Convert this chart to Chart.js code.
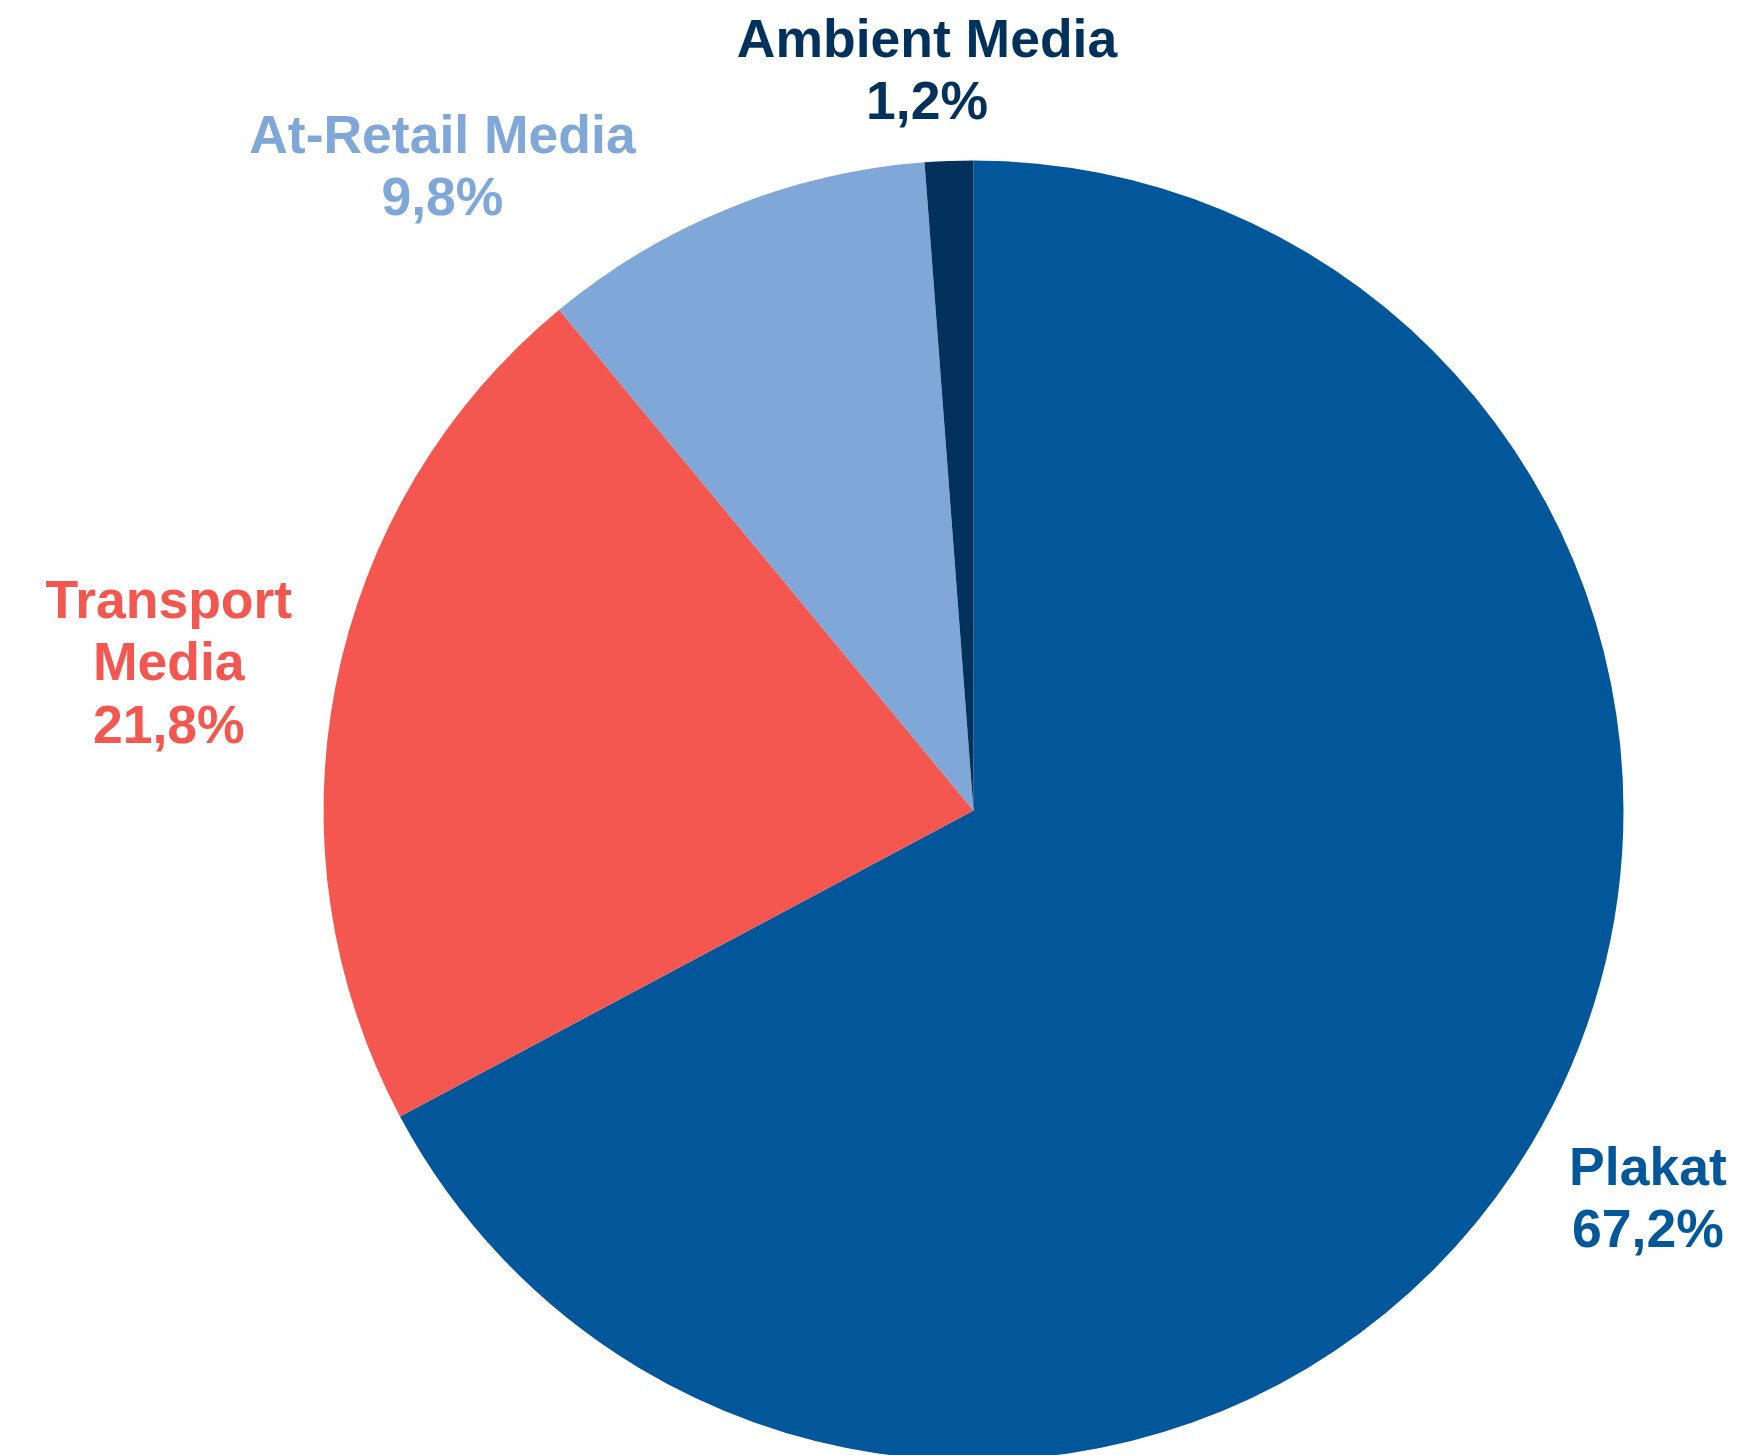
<!DOCTYPE html>
<html>
<head>
<meta charset="utf-8">
<script src="https://cdn.jsdelivr.net/npm/chart.js@4/dist/chart.umd.min.js"></script>
<style>
  html, body { margin: 0; padding: 0; background: #fff; overflow: hidden; }
  #wrap { position: absolute; left: 0; top: 0; }
</style>
</head>
<body>
<div id="wrap"><canvas id="chartMedien" width="1752" height="1470"></canvas></div>
<script>
// Anteile Außenwerbung nach Medium (%)
const kategorien = ['Plakat', ['Transport', 'Media'], 'At-Retail Media', 'Ambient Media']
const anteile = [67.2, 21.8, 9.8, 1.2]
const farben = ['#02569A', '#F4574F', '#7FA7D8', '#02325C']

// Labels aussen am Segment, Verschiebung gegenueber Bogenmitte (erste Grundlinie)
const labelOffsets = [[117, 40], [-167, -67], [-288, -55], [-22, -104]]

const formatProzent = (v) => v.toFixed(1).replace('.', ',') + '%'

const aussenLabels = {
    id: 'aussenLabels',
    afterDatasetsDraw(chart, args, opts) {
        const ctx = chart.ctx
        const meta = chart.getDatasetMeta(0)
        ctx.save()
        ctx.font = 'bold ' + opts.size + 'px "Liberation Sans", Arial, sans-serif'
        ctx.textAlign = 'center'
        ctx.textBaseline = 'alphabetic'
        meta.data.forEach((arc, i) => {
            const p = arc.getProps(['x', 'y', 'startAngle', 'endAngle', 'outerRadius'], true)
            const mitte = (p.startAngle + p.endAngle) / 2
            const ax = p.x + Math.cos(mitte) * p.outerRadius
            const ay = p.y + Math.sin(mitte) * p.outerRadius
            const lbl = chart.data.labels[i]
            const zeilen = (Array.isArray(lbl) ? lbl : [lbl]).concat([formatProzent(anteile[i])])
            ctx.fillStyle = farben[i]
            zeilen.forEach((z, j) => {
                ctx.fillText(z, ax + opts.offsets[i][0], ay + opts.offsets[i][1] + j * opts.lineGap)
            })
        })
        ctx.restore()
    }
}

function medienChart(ctx) {
    const chart = new Chart(ctx, {
        type: 'pie',
        data: {
            labels: kategorien,
            datasets: [{
                data: anteile,
                backgroundColor: farben,
                borderWidth: 0,
                hoverOffset: 0
            }]
        },
        options: {
            responsive: false,
            animation: false,
            devicePixelRatio: 1,
            rotation: 0,
            layout: {
                padding: { left: 323.5, right: 128.5, top: 160.5, bottom: 9.5 }
            },
            plugins: {
                legend: { display: false },
                tooltip: { enabled: false },
                aussenLabels: { size: 53.5, lineGap: 62.5, offsets: labelOffsets }
            }
        },
        plugins: [aussenLabels]
    })
    return chart
}

medienChart(document.querySelector('#chartMedien').getContext('2d'))
</script>
</body>
</html>
